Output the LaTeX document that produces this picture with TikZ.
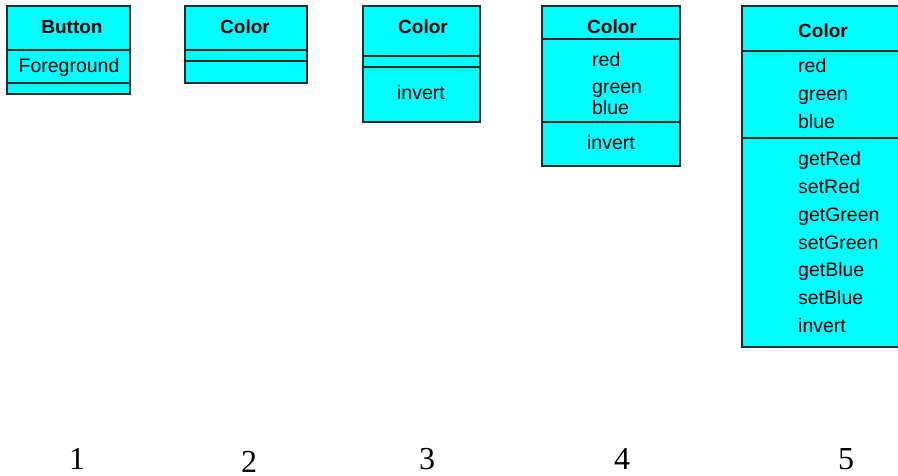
\documentclass[tikz,border=0pt]{standalone}
\usepackage{fontspec}
\setmainfont{Liberation Serif}
\setsansfont{Liberation Sans}
\definecolor{classfill}{RGB}{0,255,255}
\definecolor{classline}{RGB}{40,40,40}
\begin{document}
\begin{tikzpicture}[x=1pt,y=-1pt,
  classbox/.style={draw=classline, fill=classfill, line width=1.1pt},
  divider/.style={draw=classline, line width=1.1pt},
  classname/.style={font=\sffamily\bfseries\fontsize{19}{22}\selectfont, inner sep=0pt, anchor=base},
  member/.style={font=\sffamily\fontsize{19.5}{22}\selectfont, inner sep=0pt, anchor=base west},
  centermember/.style={font=\sffamily\fontsize{19.5}{22}\selectfont, inner sep=0pt, anchor=base},
  stage/.style={font=\rmfamily\fontsize{32}{36}\selectfont, inner sep=0pt, anchor=base}]
\useasboundingbox (0,0) rectangle (898,476);
\clip (0,0) rectangle (898,476);

% 1: Button with a Foreground attribute
\path[classbox] (7,6) rectangle (130,94);
\draw[divider] (7,50) -- (130,50);
\draw[divider] (7,83) -- (130,83);
\node[classname] (b1title) at (72,34) {Button};
\node[centermember] (b1fg) at (69,72.7) {Foreground};

% 2: empty Color class
\path[classbox] (185,6) rectangle (307,83);
\draw[divider] (185,50) -- (307,50);
\draw[divider] (185,61) -- (307,61);
\node[classname] (c2title) at (245,34) {Color};

% 3: Color with one operation
\path[classbox] (363,6) rectangle (480,122);
\draw[divider] (363,56) -- (480,56);
\draw[divider] (363,67) -- (480,67);
\node[classname] (c3title) at (423,34) {Color};
\node[centermember] (c3invert) at (421,100) {invert};

% 4: Color with attributes
\path[classbox] (542,6) rectangle (680,166);
\draw[divider] (542,39) -- (680,39);
\draw[divider] (542,122) -- (680,122);
\node[classname] (c4title) at (612,33.3) {Color};
\node[member] (c4red) at (592,66.7) {red};
\node[member] (c4green) at (592,94) {green};
\node[member] (c4blue) at (592,115) {blue};
\node[centermember] (c4invert) at (611,149.3) {invert};

% 5: Color with accessors
\path[classbox] (742,6) rectangle (910,347);
\draw[divider] (742,51) -- (910,51);
\draw[divider] (742,138) -- (910,138);
\node[classname] (c5title) at (823,38) {Color};
\node[member] (c5red) at (798,73) {red};
\node[member] (c5green) at (798,100.7) {green};
\node[member] (c5blue) at (798,128.4) {blue};
\node[member] (c5getred) at (798,166) {getRed};
\node[member] (c5setred) at (798,193.7) {setRed};
\node[member] (c5getgreen) at (798,221.4) {getGreen};
\node[member] (c5setgreen) at (798,249.1) {setGreen};
\node[member] (c5getblue) at (798,276.8) {getBlue};
\node[member] (c5setblue) at (798,304.5) {setBlue};
\node[member] (c5invert) at (798,332.2) {invert};

% stage numbers
\node[stage] (n1) at (77,469) {1};
\node[stage] (n2) at (249,472) {2};
\node[stage] (n3) at (427,469) {3};
\node[stage] (n4) at (622,469) {4};
\node[stage] (n5) at (846,469) {5};
\end{tikzpicture}
\end{document}
